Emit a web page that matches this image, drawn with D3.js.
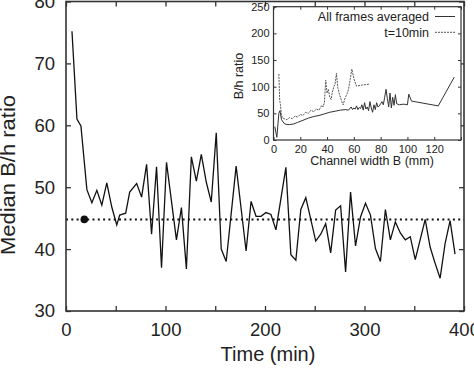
<!DOCTYPE html>
<html>
<head>
<meta charset="utf-8">
<script src="https://cdnjs.cloudflare.com/ajax/libs/d3/7.8.5/d3.min.js"></script>
<style>
  body { margin: 0; background: #fff; }
  text { font-family: "Liberation Sans", Arial, sans-serif; fill: #222; }
</style>
</head>
<body>
<div id="chart"></div>
<script>
// Main series: median B/h ratio over time
var times = [6, 11, 15, 21, 26, 31, 36, 41, 46, 51, 54, 60, 64, 71, 76, 81, 86, 91, 96, 101,
  111, 116, 121, 126, 131, 136, 141, 146, 151, 156, 161, 171, 181, 186, 191, 196, 201, 206, 211,
  221, 226, 231, 236, 241, 251, 256, 261, 266, 271, 276, 281, 286, 291, 296, 301, 306, 311, 316,
  321, 326, 331, 336, 341, 346, 351, 361, 366, 371, 376, 381, 386, 391];
var medianRatio = [75.2, 61.0, 59.9, 49.6, 47.5, 49.5, 47.1, 50.7, 46.8, 43.9, 45.5, 45.8, 49.2, 50.6, 48.4, 53.7, 42.4, 53.3, 37.0, 54.0,
  41.5, 46.7, 36.8, 54.9, 51.0, 55.3, 50.8, 47.6, 58.8, 40.0, 38.0, 53.4, 39.7, 47.7, 45.3, 45.3, 45.9, 45.6, 43.1,
  53.2, 39.1, 38.2, 46.4, 48.3, 41.3, 42.4, 44.1, 39.4, 46.3, 47.0, 36.3, 49.2, 40.5, 45.2, 47.4, 45.5, 40.1, 38.0,
  46.4, 41.5, 44.4, 42.6, 41.5, 42.0, 38.3, 44.8, 40.3, 37.7, 35.3, 40.9, 44.6, 39.2];
var meanLevel = 44.8;
var markerTime = 18.4;

// Inset: B/h ratio vs channel width
var widthAll = [1, 2.5, 4, 4.8, 6, 8, 10, 12, 15, 18, 22, 26, 30, 34, 38, 42, 46, 50, 54, 56, 58, 59, 60, 61, 62,
  63, 64, 65, 66, 67, 68, 69, 70, 71, 72, 73, 74, 75, 76, 77, 78, 79, 80, 81, 82, 83, 84, 85, 86, 87, 88,
  89, 90, 91, 92, 94, 96, 98, 100, 101, 103, 123, 135];
var ratioAll = [25, 5, 50, 55, 38, 31, 29, 29, 30, 33, 37, 41, 44, 46, 49, 52, 54, 56, 57, 56, 62, 57, 60, 58, 64,
  57, 61, 59, 66, 56, 70, 58, 62, 55, 72, 60, 52, 66, 57, 70, 62, 64, 68, 72, 66, 80, 95, 78, 62, 88, 60,
  80, 65, 85, 68, 66, 67, 67, 66, 86, 73, 64, 118];
var widthT10 = [4, 4.6, 5.2, 5.8, 6.5, 8, 10, 12, 14, 16, 18, 20, 22, 24, 26, 28, 30, 32, 34, 36, 37, 38,
  39, 40, 41, 42, 43, 44, 45, 46, 47, 48, 49, 50, 51, 52, 53, 54, 55, 56, 57, 58.5, 60, 62, 66, 72];
var ratioT10 = [124, 75, 66, 50, 42, 40, 38, 42, 40, 45, 43, 48, 46, 52, 50, 56, 53, 58, 56, 65, 62, 70,
  112, 88, 95, 80, 76, 90, 100, 105, 125, 98, 88, 80, 72, 66, 75, 82, 87, 95, 110, 133, 115, 101, 103, 105];

var timeTicks = [0, 50, 100, 150, 200, 250, 300, 350, 400];
var ratioTicks = [30, 40, 50, 60, 70, 80];
var widthTicks = [0, 20, 40, 60, 80, 100, 120, 140];
var insetRatioTicks = [0, 50, 100, 150, 200, 250];
var seriesNames = ["All frames averaged", "t=10min"];

var svgWidth = 474;
var svgHeight = 368;
var margin = { top: 1.5, right: 10, bottom: 57, left: 66 };
var width = svgWidth - margin.left - margin.right;
var height = svgHeight - margin.top - margin.bottom;

var svg = d3.select("#chart")
  .append("svg")
  .attr("width", svgWidth)
  .attr("height", svgHeight);

var chartGroup = svg.append("g")
  .attr("transform", `translate(${margin.left}, ${margin.top})`);

var xScale = d3.scaleLinear().domain([0, 400]).range([0, width]);
var yScale = d3.scaleLinear().domain([30, 80]).range([height, 0]);

// Axes with inward ticks on all four sides
function styleAxis(g, size) {
  g.select(".domain").remove();
  g.selectAll("line").attr("stroke", "#333").attr("stroke-width", 1.3);
  g.selectAll("text").attr("font-size", size).attr("fill", "#222")
    .attr("font-family", "Liberation Sans, Arial, sans-serif");
}

chartGroup.append("g")
  .attr("transform", `translate(0, ${height})`)
  .call(d3.axisBottom(xScale).tickValues(timeTicks).tickSize(-5).tickPadding(12)
    .tickFormat(d => d % 100 === 0 ? d : ""))
  .call(g => styleAxis(g, "18.5px"));

chartGroup.append("g")
  .call(d3.axisTop(xScale).tickValues(timeTicks).tickSize(-5).tickFormat(""))
  .call(g => styleAxis(g, "18.5px"));

chartGroup.append("g")
  .call(d3.axisLeft(yScale).tickValues(ratioTicks).tickSize(-5).tickPadding(11))
  .call(g => styleAxis(g, "18.5px"));

chartGroup.append("g")
  .attr("transform", `translate(${width}, 0)`)
  .call(d3.axisRight(yScale).tickValues(ratioTicks).tickSize(-5).tickFormat(""))
  .call(g => styleAxis(g, "18.5px"));

// Dotted mean level
chartGroup.append("line")
  .attr("x1", 0)
  .attr("x2", width)
  .attr("y1", yScale(meanLevel))
  .attr("y2", yScale(meanLevel))
  .attr("stroke", "#111")
  .attr("stroke-width", 2)
  .attr("stroke-dasharray", "2,3.3");

chartGroup.append("circle")
  .attr("cx", xScale(markerTime))
  .attr("cy", yScale(meanLevel))
  .attr("r", 3.8)
  .attr("fill", "#111");

// Main line
var mainLine = d3.line()
  .x((d, i) => xScale(times[i]))
  .y(d => yScale(d));

chartGroup.append("path")
  .datum(medianRatio)
  .attr("d", mainLine)
  .attr("fill", "none")
  .attr("stroke", "#111")
  .attr("stroke-width", 1.3)
  .attr("stroke-linejoin", "miter");

// Frame
chartGroup.append("rect")
  .attr("width", width)
  .attr("height", height)
  .attr("fill", "none")
  .attr("stroke", "#333")
  .attr("stroke-width", 1.6);

// Axis titles
svg.append("text")
  .attr("transform", "rotate(-90)")
  .attr("x", -175)
  .attr("y", 15)
  .attr("font-size", "20px")
  .attr("text-anchor", "middle")
  .attr("textLength", 160)
  .attr("lengthAdjust", "spacingAndGlyphs")
  .text("Median B/h ratio");

svg.append("text")
  .attr("x", 268)
  .attr("y", 361)
  .attr("font-size", "20px")
  .attr("text-anchor", "middle")
  .text("Time (min)");

// ---------- Inset ----------
var inset = { left: 273.5, top: 6.7, right: 461, bottom: 140 };
var insetGroup = svg.append("g");

var bScale = d3.scaleLinear().domain([0, 140]).range([inset.left, inset.right]);
var rScale = d3.scaleLinear().domain([0, 250]).range([inset.bottom, inset.top]);

insetGroup.append("rect")
  .attr("x", inset.left)
  .attr("y", inset.top)
  .attr("width", inset.right - inset.left)
  .attr("height", inset.bottom - inset.top)
  .attr("fill", "#fff");

insetGroup.append("g")
  .attr("transform", `translate(0, ${inset.bottom})`)
  .call(d3.axisBottom(bScale).tickValues(widthTicks).tickSize(-3).tickPadding(5)
    .tickFormat(d => d < 140 ? d : ""))
  .call(g => styleAxis(g, "11px"));

insetGroup.append("g")
  .attr("transform", `translate(0, ${inset.top})`)
  .call(d3.axisTop(bScale).tickValues(widthTicks).tickSize(-3).tickFormat(""))
  .call(g => styleAxis(g, "11px"));

insetGroup.append("g")
  .attr("transform", `translate(${inset.left}, 0)`)
  .call(d3.axisLeft(rScale).tickValues(insetRatioTicks).tickSize(-3).tickPadding(4))
  .call(g => styleAxis(g, "11px"));

insetGroup.append("g")
  .attr("transform", `translate(${inset.right}, 0)`)
  .call(d3.axisRight(rScale).tickValues(insetRatioTicks).tickSize(-3).tickFormat(""))
  .call(g => styleAxis(g, "11px"));

insetGroup.selectAll("line").attr("stroke-width", 1);

var allLine = d3.line()
  .x((d, i) => bScale(widthAll[i]))
  .y(d => rScale(d));

var t10Line = d3.line()
  .x((d, i) => bScale(widthT10[i]))
  .y(d => rScale(d));

insetGroup.append("path")
  .datum(ratioT10)
  .attr("d", t10Line)
  .attr("fill", "none")
  .attr("stroke", "#555")
  .attr("stroke-width", 1)
  .attr("stroke-dasharray", "2,1");

insetGroup.append("path")
  .datum(ratioAll)
  .attr("d", allLine)
  .attr("fill", "none")
  .attr("stroke", "#333")
  .attr("stroke-width", 1);

insetGroup.append("rect")
  .attr("x", inset.left)
  .attr("y", inset.top)
  .attr("width", inset.right - inset.left)
  .attr("height", inset.bottom - inset.top)
  .attr("fill", "none")
  .attr("stroke", "#333")
  .attr("stroke-width", 1.2);

// Legend
var legendGroup = insetGroup.selectAll(".legend")
  .data(seriesNames)
  .enter()
  .append("g")
  .attr("class", "legend")
  .attr("transform", (d, i) => `translate(0, ${16.5 + i * 15.8})`);

legendGroup.append("text")
  .attr("x", 429)
  .attr("dy", "0.35em")
  .attr("font-size", "12.5px")
  .attr("text-anchor", "end")
  .text(d => d);

legendGroup.append("line")
  .attr("x1", 435)
  .attr("x2", 455)
  .attr("stroke", (d, i) => i === 0 ? "#333" : "#555")
  .attr("stroke-width", 1)
  .attr("stroke-dasharray", (d, i) => i === 0 ? null : "2,1");

// Inset axis titles
insetGroup.append("text")
  .attr("x", 372)
  .attr("y", 165)
  .attr("font-size", "12.5px")
  .attr("text-anchor", "middle")
  .text("Channel width B (mm)");

insetGroup.append("text")
  .attr("transform", "rotate(-90)")
  .attr("x", -76)
  .attr("y", 243)
  .attr("font-size", "12.5px")
  .attr("text-anchor", "middle")
  .text("B/h ratio");
</script>
</body>
</html>
